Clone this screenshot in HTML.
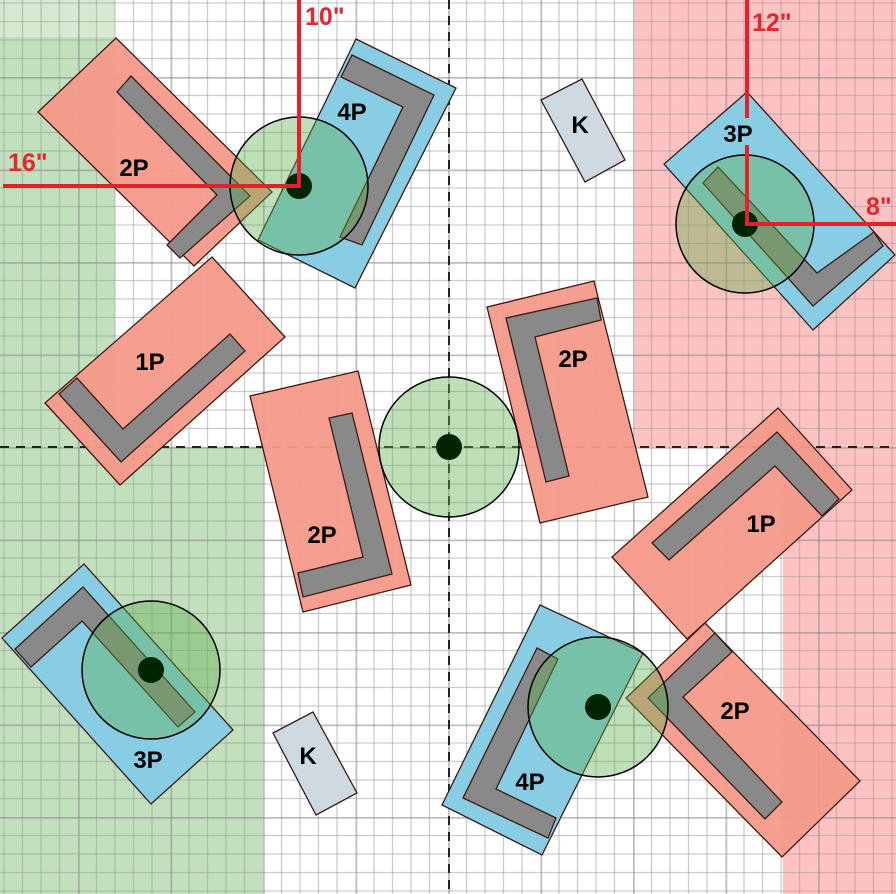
<!DOCTYPE html>
<html><head><meta charset="utf-8"><style>html,body{margin:0;padding:0;background:#fff}svg{display:block}</style></head><body>
<svg width="896" height="894" viewBox="0 0 896 894" xmlns="http://www.w3.org/2000/svg" font-family="Liberation Sans, sans-serif">
<defs>
<pattern id="g" patternUnits="userSpaceOnUse" x="-14.5" y="-15.5" width="92.5" height="92.5">
<g stroke="#999" stroke-opacity="0.5" stroke-width="1.3">
<line x1="18.5" y1="0" x2="18.5" y2="92.5"/><line x1="37" y1="0" x2="37" y2="92.5"/><line x1="55.5" y1="0" x2="55.5" y2="92.5"/><line x1="74" y1="0" x2="74" y2="92.5"/>
<line y1="18.5" x1="0" y2="18.5" x2="92.5"/><line y1="37" x1="0" y2="37" x2="92.5"/><line y1="55.5" x1="0" y2="55.5" x2="92.5"/><line y1="74" x1="0" y2="74" x2="92.5"/>
</g>
<g stroke="#888" stroke-opacity="0.55" stroke-width="3.5">
<line x1="0" y1="0" x2="0" y2="92.5"/><line x1="0" y1="0" x2="92.5" y2="0"/>
</g>
</pattern>
</defs>
<rect width="896" height="894" fill="#fff"/>
<rect x="0" y="37" width="115" height="410" fill="#c2e0bd"/>
<rect x="0" y="0" width="115" height="37" fill="#d6ead2"/>
<rect x="0" y="447" width="263" height="447" fill="#c2e0bd"/>
<rect x="635" y="0" width="261" height="447" fill="#ffc2c2"/>
<rect x="783" y="447" width="113" height="447" fill="#ffc2c2"/>
<rect width="896" height="894" fill="url(#g)"/>
<g stroke="#222" stroke-width="2" stroke-dasharray="9,7">
<line x1="449" y1="0" x2="449" y2="894"/><line x1="0" y1="447" x2="896" y2="447"/>
</g>
<g stroke="#3a1a14" stroke-width="1.3" stroke-linejoin="miter">
<g fill="#f59a8a" fill-opacity="0.95">
<polygon points="116,38 272,192 194,266 38,112"/>
<polygon points="45,403 212,257 285,337 120,485"/>
<polygon points="250,396 358,371 411,585 303,612"/>
<polygon points="487,307 594,281 648,497 540,523"/>
<polygon points="778,408 852,490 687,639 612,557"/>
<polygon points="705,623 860,781 782,857 626,698"/>
</g>
<g fill="#88cde4">
<polygon points="356,39 456,88 355,288 258,240"/>
<polygon points="747,92 895,255 813,330 664,164"/>
<polygon points="540,605 643,653 542,855 442,805"/>
<polygon points="84,564 233,730 151,804 2,638"/>
</g>
<g fill="#cfd9e1">
<polygon points="541,100 582,79 625,160 585,182"/>
<polygon points="273,733 313,712 357,793 316,815"/>
</g>
<g fill="#898989">
<polygon points="117,92 131,76 250,196 180,258 167,245 217,195"/>
<polygon points="59,394 77,378 123,429 230,334 245,351 121,462"/>
<polygon points="329,418 352,413 392,574 303,597 298,573 363,557"/>
<polygon points="506,318 597,298 601,320 535,337 569,476 546,482"/>
<polygon points="652,543 777,432 839,499 822,516 775,466 669,560"/>
<polygon points="715,633 732,652 683,697 782,802 765,819 648,698"/>
<polygon points="352,55 434,95 362,245 340,237 403,107 341,77"/>
<polygon points="703,183 718,167 817,273 874,232 883,246 813,306"/>
<polygon points="537,648 558,659 496,789 556,818 548,838 463,798"/>
<polygon points="15,649 83,587 195,712 178,727 82,621 31,667"/>
</g>
</g>
<g fill="#5fb04f" fill-opacity="0.4" stroke="#000" stroke-width="1.5">
<circle cx="299" cy="186" r="69"/>
<circle cx="449" cy="447" r="70"/>
<circle cx="745" cy="224" r="69"/>
<circle cx="598" cy="707" r="70"/>
<circle cx="151" cy="670" r="69"/>
</g>
<g fill="#002400">
<circle cx="299" cy="186" r="13"/><circle cx="449" cy="447" r="13"/><circle cx="745" cy="224" r="13"/><circle cx="598" cy="707" r="13"/><circle cx="151" cy="670" r="13"/>
</g>
<g stroke="#e0232b" stroke-width="4" fill="none">
<polyline points="299,0 299,186 3,186"/>
<line x1="747" y1="0" x2="747" y2="118"/>
<polyline points="747,145 747,224 896,224"/>
</g>
<g fill="#dd2a2f" font-weight="bold" font-size="25">
<text x="305" y="25">10"</text><text x="8" y="171">16"</text><text x="752" y="31">12"</text><text x="866" y="215">8"</text>
</g>
<g fill="#000" font-weight="bold" font-size="24" text-anchor="middle">
<text x="134" y="176">2P</text><text x="352" y="120">4P</text><text x="150" y="370">1P</text><text x="322" y="543">2P</text>
<text x="580" y="133">K</text><text x="573" y="367">2P</text><text x="738" y="142">3P</text><text x="761" y="532">1P</text>
<text x="735" y="719">2P</text><text x="530" y="790">4P</text><text x="148" y="768">3P</text><text x="308" y="764">K</text>
</g>
</svg>
</body></html>
